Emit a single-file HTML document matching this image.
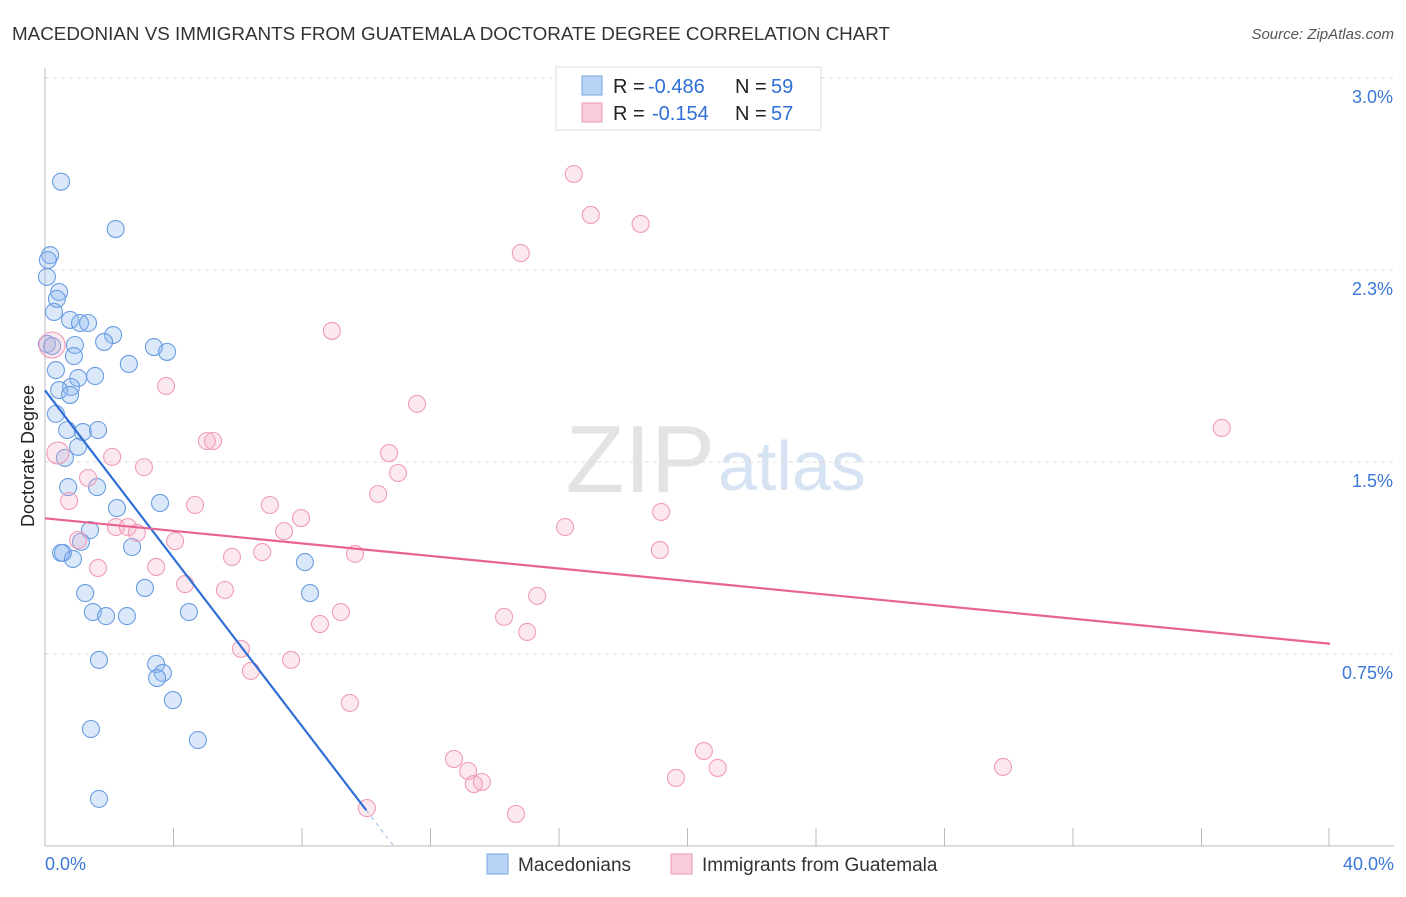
<!DOCTYPE html>
<html><head><meta charset="utf-8"><style>
body{margin:0;background:#fff;font-family:"Liberation Sans",sans-serif;}
svg text{font-family:"Liberation Sans",sans-serif;}
</style></head><body>
<svg id="chart" width="1406" height="892" xmlns="http://www.w3.org/2000/svg">
<text x="12" y="40" font-size="18" fill="#333" textLength="878" lengthAdjust="spacingAndGlyphs">MACEDONIAN VS IMMIGRANTS FROM GUATEMALA DOCTORATE DEGREE CORRELATION CHART</text>
<text x="1394" y="39" font-size="15" fill="#555" font-style="italic" text-anchor="end">Source: ZipAtlas.com</text>
<text x="715" y="492" font-size="96" fill="#e3e3e3" text-anchor="end" font-family="Liberation Serif">ZIP</text>
<text x="718" y="490" font-size="70" fill="#d5e3f3">atlas</text>
<g id="grid"></g>
<g id="axes"></g>
<g id="pts"></g>
<g id="trend"></g>
<text transform="translate(34,456) rotate(-90)" font-size="18" fill="#222" text-anchor="middle">Doctorate Degree</text>
<g>
<rect x="556" y="67" width="265" height="63" fill="#fff" stroke="#ddd"/>
<rect x="582" y="76" width="20" height="19" fill="#b9d3f4" stroke="#7aa6e0"/>
<rect x="582" y="103" width="20" height="19" fill="#f9ccd9" stroke="#ec9ab4"/>
<text x="613" y="93" font-size="20" fill="#222">R =</text>
<text x="648" y="93" font-size="20" fill="#2f6fd6">-0.486</text>
<text x="735" y="93" font-size="20" fill="#222">N =</text>
<text x="771" y="93" font-size="20" fill="#2f6fd6">59</text>
<text x="613" y="120" font-size="20" fill="#222">R =</text>
<text x="652" y="120" font-size="20" fill="#2f6fd6">-0.154</text>
<text x="735" y="120" font-size="20" fill="#222">N =</text>
<text x="771" y="120" font-size="20" fill="#2f6fd6">57</text>
</g>
<g>
<rect x="487" y="854" width="21" height="20" fill="#b9d3f4" stroke="#7aa6e0"/>
<text x="518" y="871" font-size="19" fill="#333">Macedonians</text>
<rect x="671" y="854" width="21" height="20" fill="#f9ccd9" stroke="#ec9ab4"/>
<text x="702" y="871" font-size="19" fill="#333">Immigrants from Guatemala</text>
</g>
</svg>
<script>
const yTicks=[0.75,1.5,2.25,3.0];
const yTickLabels=["0.75%","1.5%","2.3%","3.0%"];
const xEndLabels=["0.0%","40.0%"];
const blueX=[0.5,2.2,0.16,0.09,0.06,0.44,0.37,0.28,0.78,1.09,1.34,2.12,1.84,0.06,0.22,3.39,3.8,0.93,0.9,2.61,0.34,1.03,1.56,0.81,0.44,0.78,0.34,0.69,1.18,1.65,1.03,0.62,0.72,1.62,2.24,3.58,1.4,1.12,2.71,0.56,0.5,0.87,8.09,3.11,1.25,8.25,1.49,1.9,2.55,4.48,1.68,3.46,3.67,3.49,3.98,1.43,4.76,1.68];
const blueY=[2.595,2.41,2.308,2.289,2.223,2.164,2.137,2.086,2.055,2.043,2.043,1.996,1.969,1.961,1.953,1.949,1.93,1.957,1.914,1.883,1.859,1.828,1.836,1.793,1.781,1.762,1.688,1.625,1.617,1.625,1.559,1.516,1.402,1.402,1.32,1.34,1.234,1.188,1.168,1.145,1.145,1.121,1.109,1.008,0.988,0.988,0.914,0.898,0.898,0.914,0.727,0.711,0.676,0.656,0.57,0.457,0.414,0.184];
const pinkX=[0.22,16.46,16.99,18.54,14.81,8.93,3.77,11.58,36.63,5.04,5.23,2.09,10.71,0.4,3.08,10.99,1.34,10.37,0.75,4.67,7.0,19.18,7.97,2.21,16.19,2.58,2.86,7.44,1.03,4.05,19.14,6.76,5.82,9.65,1.65,3.46,4.36,5.6,15.32,9.21,14.29,8.56,15.01,6.1,7.66,6.41,9.49,12.73,20.51,13.17,20.94,29.82,19.64,13.35,13.6,14.66,10.02];
const pinkY=[1.957,2.625,2.465,2.43,2.316,2.012,1.797,1.727,1.633,1.582,1.582,1.52,1.535,1.535,1.48,1.457,1.438,1.375,1.348,1.332,1.332,1.305,1.281,1.246,1.246,1.246,1.223,1.23,1.195,1.191,1.156,1.148,1.129,1.141,1.086,1.09,1.023,1.0,0.977,0.914,0.895,0.867,0.836,0.77,0.727,0.684,0.559,0.34,0.371,0.293,0.305,0.309,0.266,0.242,0.25,0.125,0.148];
const pinkR=[];pinkR[0]=13;pinkR[13]=11;
const blueTrend=[0,1.78,10.0,0.14];
const pinkTrend=[0,1.28,40,0.79];
const NS="http://www.w3.org/2000/svg";
const X0=45,X1=1330,YB=846,YT=78;
function xs(v){return X0+(X1-X0)*v/40;}
function ys(v){return YB-(YB-YT)*v/3.0;}
function mk(tag,attrs,parent){const e=document.createElementNS(NS,tag);for(const k in attrs)e.setAttribute(k,attrs[k]);parent.appendChild(e);return e;}
const grid=document.getElementById('grid'),axes=document.getElementById('axes'),pts=document.getElementById('pts'),trend=document.getElementById('trend');
yTicks.forEach((t,i)=>{
 const l=mk('line',{x1:X0,x2:1394,y1:ys(t),y2:ys(t),stroke:'#ddd','stroke-dasharray':'4,4'},grid);
 
 
 const tx=mk('text',{x:1393,y:ys(t)+25,'font-size':18,fill:'#3b78d8','text-anchor':'end'},axes);
 tx.textContent=yTickLabels[i];
 
 
});
const ax=mk('line',{x1:X0,x2:1394,y1:YB,y2:YB,stroke:'#bbb'},axes);


const ay=mk('line',{x1:X0,x2:X0,y1:68,y2:YB,stroke:'#bbb'},axes);


for(let i=1;i<=10;i++){
 const t=mk('line',{x1:xs(i*4)-(i==10?1:0),x2:xs(i*4)-(i==10?1:0),y1:YB,y2:YB-18,stroke:'#bbb'},axes);
 
 
}
[[0,'start',45],[40,'end',1394]].forEach((d,i)=>{
 const tx=mk('text',{x:d[2],y:870,'font-size':18,fill:'#3b78d8','text-anchor':d[1]},axes);
 tx.textContent=xEndLabels[i];
 
 
});
blueX.forEach((v,i)=>{
 const c=mk('circle',{cx:xs(v),cy:ys(blueY[i]),r:8.5,fill:'rgba(140,182,238,0.32)',stroke:'#6a9de2','stroke-width':1.1},pts);
 
 
});
pinkX.forEach((v,i)=>{
 const c=mk('circle',{cx:xs(v),cy:ys(pinkY[i]),r:pinkR[i]||8.5,fill:'rgba(246,172,196,0.28)',stroke:'#f09cb8','stroke-width':1.1},pts);
 
 
});
const bl=mk('line',{x1:xs(blueTrend[0]),y1:ys(blueTrend[1]),x2:xs(blueTrend[2]),y2:ys(blueTrend[3]),stroke:'#2f6fd6','stroke-width':2.2},trend);


const slope=(blueTrend[3]-blueTrend[1])/(blueTrend[2]-blueTrend[0]);
const xz=blueTrend[2]+(0-blueTrend[3])/slope;
const bd=mk('line',{x1:xs(blueTrend[2]),y1:ys(blueTrend[3]),x2:xs(xz),y2:ys(0),stroke:'#9bb8e6','stroke-width':1,'stroke-dasharray':'4,4'},trend);


const pl=mk('line',{x1:xs(pinkTrend[0]),y1:ys(pinkTrend[1]),x2:xs(pinkTrend[2]),y2:ys(pinkTrend[3]),stroke:'#e8638f','stroke-width':2.2},trend);


</script>
</body></html>
